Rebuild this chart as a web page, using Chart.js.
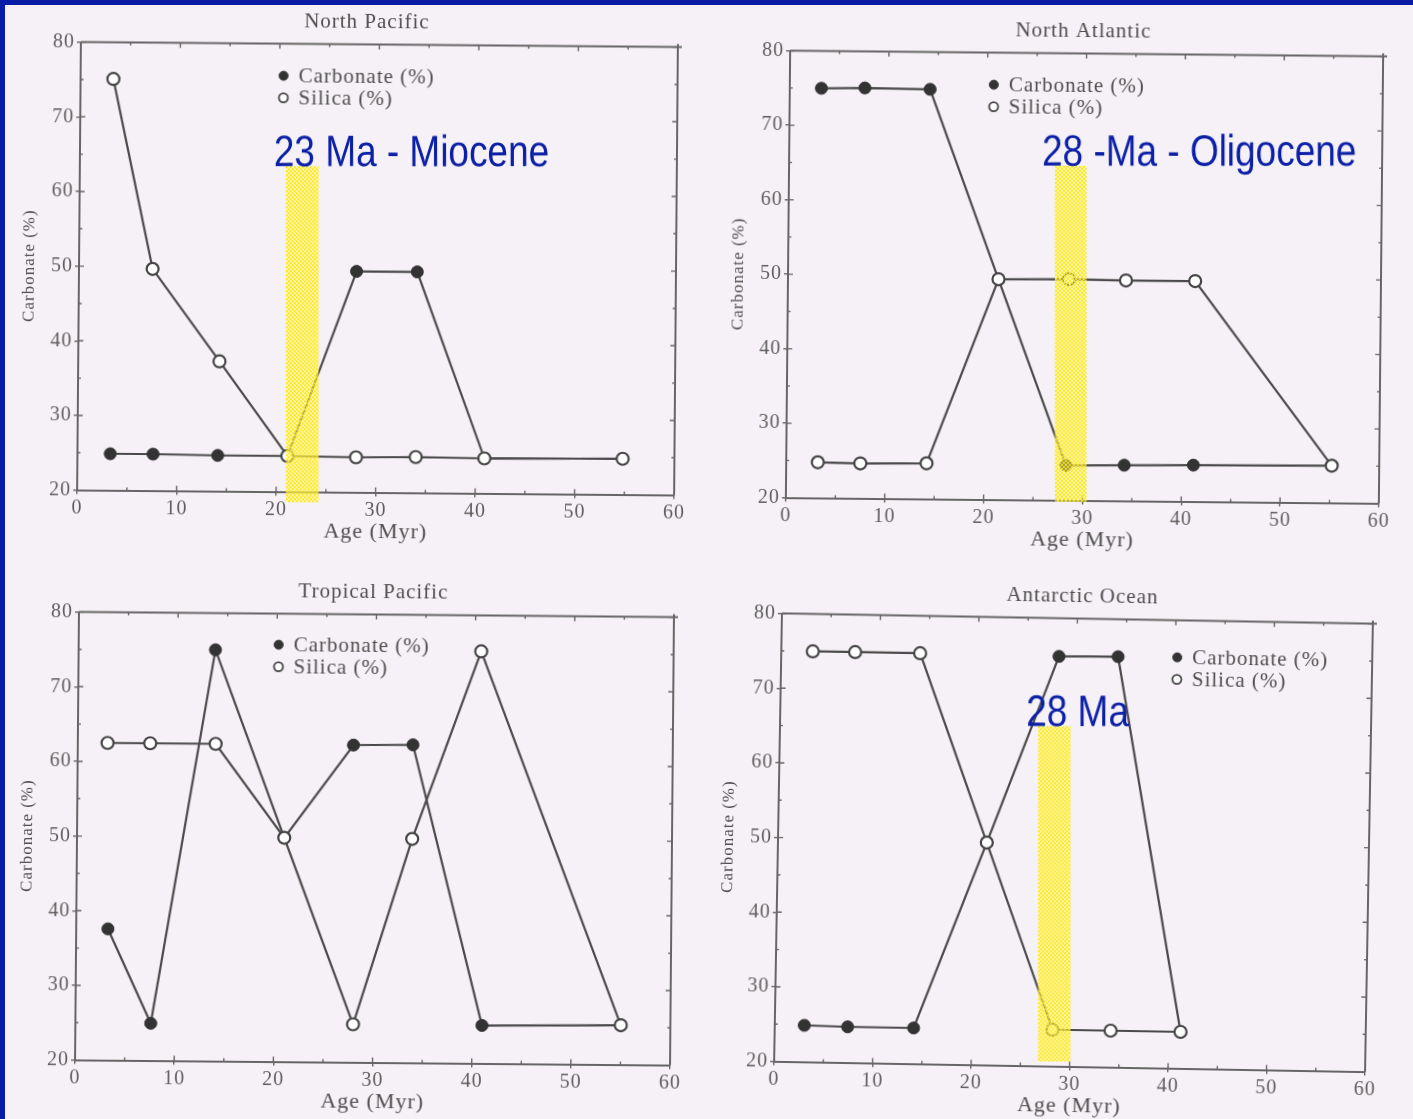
<!DOCTYPE html>
<html>
<head>
<meta charset="utf-8">
<title>Carbonate and silica through the Cenozoic</title>
<script src="https://cdn.jsdelivr.net/npm/chart.js@4.4.1/dist/chart.umd.min.js"></script>
<style>
  html, body { margin: 0; padding: 0; }
  body { width: 1413px; height: 1119px; background: #0a1ba6; position: relative; overflow: hidden; }
  #sheet { position: absolute; left: 5px; top: 5px; right: 0; bottom: 0; background: #f6f1f6; }
  canvas { position: absolute; }
</style>
</head>
<body>
<div id="sheet"></div>
<canvas id="northPacific"></canvas>
<canvas id="northAtlantic"></canvas>
<canvas id="tropicalPacific"></canvas>
<canvas id="antarcticOcean"></canvas>
<script>
// ---- shared axis values ----
const ageTicks = [0, 10, 20, 30, 40, 50, 60];
const pctTicks = [20, 30, 40, 50, 60, 70, 80];
const seriesNames = ['Carbonate (%)', 'Silica (%)'];

// ---- North Pacific ----
const npCarbonateAge = [3.3, 7.6, 14.1, 21.1, 27.9, 34.0, 40.9, 54.8];
const npCarbonate    = [24.9, 24.9, 24.8, 24.8, 49.6, 49.6, 24.7, 24.8];
const npSilicaAge    = [3.3, 7.4, 14.2, 21.1, 28.0, 34.0, 40.9, 54.8];
const npSilica       = [75.1, 49.7, 37.4, 24.8, 24.7, 24.8, 24.7, 24.8];
const npBandAge = [20.7, 24.0];
const npBandPct = [18.6, 63.6];
const npBandLabel = '23 Ma - Miocene';
const npBandLabelAge = 19.5;

// ---- North Atlantic ----
const naCarbonateAge = [3.2, 7.6, 14.2, 21.3, 28.3, 34.2, 41.2, 55.2];
const naCarbonate    = [75.0, 75.1, 75.0, 49.6, 24.7, 24.8, 24.9, 25.0];
const naSilicaAge    = [3.2, 7.5, 14.2, 21.3, 28.4, 34.2, 41.2, 55.2];
const naSilica       = [24.8, 24.7, 24.8, 49.6, 49.7, 49.6, 49.6, 25.0];
const naBandAge = [26.9, 30.1];
const naBandPct = [19.8, 64.9];
const naBandLabel = '28 -Ma - Oligocene';
const naBandLabelAge = 25.6;

// ---- Tropical Pacific ----
const tpCarbonateAge = [3.2, 7.6, 13.8, 20.9, 27.8, 33.8, 41.0, 55.0];
const tpCarbonate    = [37.6, 25.0, 75.1, 50.0, 62.5, 62.6, 25.1, 25.3];
const tpSilicaAge    = [3.0, 7.3, 13.9, 20.9, 28.0, 33.8, 40.6, 55.0];
const tpSilica       = [62.5, 62.5, 62.5, 50.0, 25.1, 50.0, 75.2, 25.3];

// ---- Antarctic Ocean ----
const aoCarbonateAge = [3.0, 7.4, 14.1, 21.2, 28.2, 34.2, 41.2];
const aoCarbonate    = [24.9, 24.8, 24.8, 49.8, 74.9, 75.0, 24.9];
const aoSilicaAge    = [3.2, 7.5, 14.1, 21.2, 28.2, 34.1, 41.2];
const aoSilica       = [75.0, 75.0, 75.0, 49.8, 24.9, 24.9, 24.9];
const aoBandAge = [26.2, 29.5];
const aoBandPct = [20.6, 65.5];
const aoBandLabel = '28 Ma';
const aoBandLabelAge = 25.0;

// ---- look ----
const SERIF = '"Liberation Serif", "Times New Roman", serif';
const SANS = '"Liberation Sans", Arial, sans-serif';
const AXIS = '#666666';
const LINE = '#4a4a4a';
const TEXT = '#4e4e4e';
const TICK = '#5e5e5e';
const BLUE = '#0b20a6';
const SPACING = '1px';
const DEG = Math.PI / 180;

const pairs = (xs, ys) => xs.map((v, i) => ({ x: v, y: ys[i] }));

let checkerCache = null;
function checker(ctx) {
  if (!checkerCache) {
    const c = document.createElement('canvas');
    c.width = 4; c.height = 4;
    const g = c.getContext('2d');
    g.fillStyle = '#ffe800';
    g.fillRect(0, 0, 2, 2); g.fillRect(2, 2, 2, 2);
    g.fillStyle = 'rgba(255,250,170,0.45)';
    g.fillRect(2, 0, 2, 2); g.fillRect(0, 2, 2, 2);
    checkerCache = c;
  }
  return ctx.createPattern(checkerCache, 'repeat');
}

// closed frame with inward ticks on all four sides
const framePlugin = {
  id: 'frame',
  beforeUpdate(chart) { chart.ctx.letterSpacing = SPACING; },
  beforeDraw(chart) { chart.ctx.letterSpacing = SPACING; },
  beforeDatasetsDraw(chart) {
    const { ctx, chartArea: a, scales: { x, y } } = chart;
    ctx.save();
    ctx.strokeStyle = AXIS;
    ctx.lineWidth = 2;
    ctx.beginPath();
    ctx.moveTo(a.left, a.top); ctx.lineTo(a.right + 4, a.top);
    ctx.moveTo(a.right, a.top - 3); ctx.lineTo(a.right, a.bottom);
    ctx.stroke();
    ctx.lineWidth = 1.4;
    ctx.beginPath();
    const xs = [], ys = [];
    ageTicks.forEach((v, i) => { xs.push([v, 5]); if (i < ageTicks.length - 1) xs.push([(v + ageTicks[i + 1]) / 2, 3]); });
    pctTicks.forEach((v, i) => { ys.push([v, 5]); if (i < pctTicks.length - 1) ys.push([(v + pctTicks[i + 1]) / 2, 3]); });
    xs.forEach(([v, len]) => {
      const px = x.getPixelForValue(v);
      ctx.moveTo(px, a.bottom); ctx.lineTo(px, a.bottom - len);
      ctx.moveTo(px, a.top); ctx.lineTo(px, a.top + len);
    });
    ys.forEach(([v, len]) => {
      const py = y.getPixelForValue(v);
      ctx.moveTo(a.left, py); ctx.lineTo(a.left + len, py);
      ctx.moveTo(a.right, py); ctx.lineTo(a.right - len, py);
    });
    ctx.stroke();
    ctx.restore();
  }
};

// hatched age band with its caption, kept upright on the page
const epochBand = {
  id: 'epochBand',
  afterDatasetsDraw(chart, args, o) {
    if (!o || !o.age) return;
    const { ctx, scales: { x, y } } = chart;
    const x0 = x.getPixelForValue(o.age[0]);
    const x1 = x.getPixelForValue(o.age[1]);
    const yTop = y.getPixelForValue(o.pct[1]);
    const yBot = y.getPixelForValue(o.pct[0]);
    ctx.save();
    ctx.translate(x0, yTop);
    ctx.rotate(-o.tilt * DEG);
    ctx.fillStyle = checker(ctx);
    ctx.fillRect(0, 0, x1 - x0, yBot - yTop);
    ctx.restore();

    ctx.save();
    ctx.translate(x.getPixelForValue(o.labelAge), yTop);
    ctx.rotate(-o.tilt * DEG);
    ctx.scale(0.84, 1);
    ctx.letterSpacing = '0px';
    ctx.font = '44px ' + SANS;
    ctx.fillStyle = BLUE;
    ctx.textBaseline = 'alphabetic';
    ctx.fillText(o.label, 0, 0);
    ctx.restore();
  }
};

// small key inside the plot
const insetKey = {
  id: 'insetKey',
  afterDraw(chart, args, o) {
    const { ctx, chartArea: a } = chart;
    ctx.save();
    ctx.letterSpacing = SPACING;
    ctx.font = '21px ' + SERIF;
    ctx.textBaseline = 'middle';
    chart.data.datasets.forEach((ds, i) => {
      const cx = a.left + o.x;
      const cy = a.top + o.y + i * 22;
      ctx.beginPath();
      ctx.arc(cx, cy, 4.5, 0, Math.PI * 2);
      ctx.fillStyle = ds.pointBackgroundColor;
      ctx.fill();
      ctx.lineWidth = i ? 1.8 : 1;
      ctx.strokeStyle = ds.pointBorderColor;
      ctx.stroke();
      ctx.fillStyle = TEXT;
      ctx.fillText(ds.label, cx + 15, cy + 1);
    });
    ctx.restore();
  }
};

Chart.register(framePlugin, epochBand, insetKey);

const panels = [
  { id: 'northPacific', title: 'North Pacific',
    carbAge: npCarbonateAge, carb: npCarbonate, silAge: npSilicaAge, sil: npSilica,
    band: { age: npBandAge, pct: npBandPct, label: npBandLabel, labelAge: npBandLabelAge },
    cx: 377.5, cy: 268.5, w: 597, h: 448, tilt: 0.48, keyX: 203, keyY: 32, titleShift: -12.6 },
  { id: 'northAtlantic', title: 'North Atlantic',
    carbAge: naCarbonateAge, carb: naCarbonate, silAge: naSilicaAge, sil: naSilica,
    band: { age: naBandAge, pct: naBandPct, label: naBandLabel, labelAge: naBandLabelAge },
    cx: 1084, cy: 277, w: 593, h: 447, tilt: 0.55, keyX: 204, keyY: 32, titleShift: -3.4 },
  { id: 'tropicalPacific', title: 'Tropical Pacific',
    carbAge: tpCarbonateAge, carb: tpCarbonate, silAge: tpSilicaAge, sil: tpSilica,
    band: null,
    cx: 374, cy: 838.5, w: 595, h: 448, tilt: 0.5, keyX: 200, keyY: 31, titleShift: -3.2 },
  { id: 'antarcticOcean', title: 'Antarctic Ocean',
    carbAge: aoCarbonateAge, carb: aoCarbonate, silAge: aoSilicaAge, sil: aoSilica,
    band: { age: aoBandAge, pct: aoBandPct, label: aoBandLabel, labelAge: aoBandLabelAge },
    cx: 1073, cy: 843, w: 591, h: 448, tilt: 1.0, keyX: 396, keyY: 37, titleShift: 4.7 }
];

function buildPanel(p) {
  const canvas = document.getElementById(p.id);
  const padL = 10, axisW = 70, axisH = 54;
  const titleSize = 21;
  const titleBlock = 4 + titleSize * 1.2 + 9.4;
  const rightW = 70 + 2 * p.titleShift;
  const cw = Math.ceil(padL + axisW + p.w + rightW + 10);
  const padR = cw - (padL + axisW + p.w + rightW);
  const ch = Math.ceil(titleBlock + p.h + axisH + 4);
  const padB = ch - (titleBlock + p.h + axisH);
  canvas.width = cw;
  canvas.height = ch;
  canvas.style.width = cw + 'px';
  canvas.style.height = ch + 'px';

  const tickFont = { family: SERIF, size: 20 };
  const chart = new Chart(canvas, {
    type: 'line',
    data: {
      datasets: [
        { label: seriesNames[0], data: pairs(p.carbAge, p.carb), order: 1,
          borderColor: LINE, borderWidth: 2.2, tension: 0,
          pointRadius: 6, pointBackgroundColor: '#333333', pointBorderColor: '#333333', pointBorderWidth: 1 },
        { label: seriesNames[1], data: pairs(p.silAge, p.sil), order: 0,
          borderColor: LINE, borderWidth: 2.2, tension: 0,
          pointRadius: 6, pointBackgroundColor: '#ffffff', pointBorderColor: '#444444', pointBorderWidth: 2.2 }
      ]
    },
    options: {
      responsive: false,
      animation: false,
      events: [],
      layout: { padding: { left: padL, right: padR, top: 0, bottom: padB } },
      plugins: {
        legend: { display: false },
        tooltip: { enabled: false },
        title: { display: true, text: p.title, color: TEXT,
                 font: { family: SERIF, size: titleSize, weight: 'normal' },
                 padding: { top: 4, bottom: 9.4 } },
        insetKey: { x: p.keyX, y: p.keyY },
        epochBand: p.band ? Object.assign({ tilt: p.tilt }, p.band) : false
      },
      scales: {
        x: {
          type: 'linear', position: 'bottom', min: 0, max: 60,
          afterFit: s => { s.height = axisH; },
          afterBuildTicks: s => { s.ticks = ageTicks.map(v => ({ value: v })); },
          ticks: { color: TICK, font: tickFont, padding: 2, maxRotation: 0, autoSkip: false,
                   callback: v => String(v) },
          grid: { drawOnChartArea: false, drawTicks: true, tickLength: 4, color: AXIS, lineWidth: 1.4 },
          border: { display: true, color: AXIS, width: 2 },
          title: { display: true, text: 'Age (Myr)', color: TEXT,
                   font: { family: SERIF, size: 22 }, padding: { top: 0, bottom: 1 } }
        },
        y: {
          type: 'linear', position: 'left', min: 20, max: 80,
          afterFit: s => { s.width = axisW; },
          afterBuildTicks: s => { s.ticks = pctTicks.map(v => ({ value: v })); },
          ticks: { color: TICK, font: tickFont, padding: 2, autoSkip: false,
                   callback: v => String(v) },
          grid: { drawOnChartArea: false, drawTicks: true, tickLength: 4, color: AXIS, lineWidth: 1.4 },
          border: { display: true, color: AXIS, width: 2 },
          title: { display: true, text: 'Carbonate (%)', color: TEXT,
                   font: { family: SERIF, size: 17 }, padding: { top: 10, bottom: 0 } }
        },
        y2: {
          type: 'linear', position: 'right', min: 20, max: 80, display: true,
          afterFit: s => { s.width = rightW; },
          ticks: { display: false },
          grid: { display: false },
          border: { display: false }
        }
      }
    }
  });

  const a = chart.chartArea;
  const ox = (a.left + a.right) / 2;
  const oy = (a.top + a.bottom) / 2;
  canvas.style.left = (p.cx - ox) + 'px';
  canvas.style.top = (p.cy - oy) + 'px';
  canvas.style.transformOrigin = ox + 'px ' + oy + 'px';
  canvas.style.transform = 'rotate(' + p.tilt + 'deg)';
}

panels.forEach(buildPanel);
</script>
</body>
</html>
